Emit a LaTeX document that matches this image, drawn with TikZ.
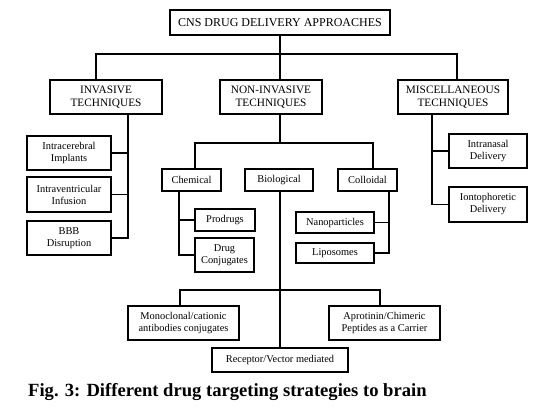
\documentclass[tikz,border=0pt]{standalone}
\usepackage{fontspec}
\setmainfont{Liberation Serif}
\begin{document}
\begin{tikzpicture}[x=1pt,y=-1pt,
  box/.style={draw,line width=1.9pt,inner sep=0pt,align=center,fill=white},
  small/.style={box,font=\fontsize{10.4}{12}\selectfont},
  head/.style={box,font=\fontsize{11.3}{13}\selectfont},
  conn/.style={line width=1.8pt,line join=miter}]
\useasboundingbox (0,0) rectangle (538,414);
% boxes
\node[box,font=\fontsize{12}{13}\selectfont,minimum width=220pt,minimum height=25pt] (top) at (280,22.5) {CNS DRUG DELIVERY APPROACHES};
\node[head,minimum width=112pt,minimum height=34pt] (inv) at (106,97) {INVASIVE\\TECHNIQUES};
\node[head,minimum width=102pt,minimum height=34pt] (non) at (271,97) {NON-INVASIVE\\TECHNIQUES};
\node[head,minimum width=110pt,minimum height=34pt] (misc) at (453,97) {MISCELLANEOUS\\TECHNIQUES};
\node[small,minimum width=84pt,minimum height=34pt] (icb) at (69,153) {Intracerebral\\Implants};
\node[small,minimum width=84pt,minimum height=35pt] (ivf) at (69,194.5) {Intraventricular\\Infusion};
\node[small,minimum width=84pt,minimum height=34pt] (bbb) at (69,238) {BBB\\Disruption};
\node[small,minimum width=59pt,minimum height=22pt] (chem) at (191.5,180) {Chemical};
\node[small,minimum width=68pt,minimum height=22pt] (bio) at (279,180) {Biological};
\node[small,minimum width=59pt,minimum height=22pt] (coll) at (367.5,180) {Colloidal};
\node[small,minimum width=60pt,minimum height=22pt] (prod) at (225,220) {Prodrugs};
\node[small,minimum width=59pt,minimum height=34pt] (dconj) at (224.5,255) {Drug\\Conjugates};
\node[small,minimum width=78pt,minimum height=21pt] (nano) at (335,222.5) {Nanoparticles};
\node[small,minimum width=78pt,minimum height=20pt] (lipo) at (335,253) {Liposomes};
\node[small,minimum width=111pt,minimum height=34pt] (mono) at (183.5,323) {Monoclonal/cationic\\antibodies conjugates};
\node[small,minimum width=111pt,minimum height=34pt] (apro) at (384.5,323) {Aprotinin/Chimeric\\Peptides as a Carrier};
\node[small,minimum width=136pt,minimum height=24pt] (rec) at (280,360) {Receptor/Vector mediated};
\node[small,minimum width=78pt,minimum height=34pt] (intra) at (488,151) {Intranasal\\Delivery};
\node[small,minimum width=78pt,minimum height=35pt] (ionto) at (488,204.5) {Iontophoretic\\Delivery};
% junction coordinates
\coordinate (jt) at (280,54);
\coordinate (jl) at (96,54);
\coordinate (jr) at (457,54);
\coordinate (it) at (128,0);
\coordinate (nb) at (280,143);
\coordinate (cx) at (195,143);
\coordinate (kx) at (373,143);
\coordinate (ct) at (179,0);
\coordinate (kt) at (389,0);
\coordinate (ml) at (180,290);
\coordinate (ar) at (380,290);
\coordinate (mt) at (432,0);
% connectors
\draw[conn] (top.south) -- (jt);
\draw[conn] (jl |- inv.north) -- (jl) -- (jr) -- (jr |- misc.north);
\draw[conn] (jt) -- (non.north -| jt);
\draw[conn] (inv.south -| it) -- (it |- bbb.east) -- (bbb.east);
\draw[conn] (icb.east) -- (icb.east -| it);
\draw[conn] (ivf.east) -- (ivf.east -| it);
\draw[conn] (non.south -| nb) -- (nb);
\draw[conn] (cx |- chem.north) -- (cx) -- (kx) -- (kx |- coll.north);
\draw[conn] (bio.south -| nb) -- (nb |- rec.north);
\draw[conn] (ml |- mono.north) -- (ml) -- (ar) -- (ar |- apro.north);
\draw[conn] (chem.south -| ct) -- (ct |- dconj.west) -- (dconj.west);
\draw[conn] (prod.west) -- (prod.west -| ct);
\draw[conn] (coll.south -| kt) -- (kt |- lipo.east) -- (lipo.east);
\draw[conn] (nano.east) -- (nano.east -| kt);
\draw[conn] (misc.south -| mt) -- (mt |- ionto.west) -- (ionto.west);
\draw[conn] (intra.west) -- (intra.west -| mt);
% caption
\node[anchor=base west,inner sep=0pt,font=\fontsize{18.6}{20}\selectfont\bfseries] (cap) at (28,396) {Fig. 3: Different drug targeting strategies to brain};
\end{tikzpicture}
\end{document}
